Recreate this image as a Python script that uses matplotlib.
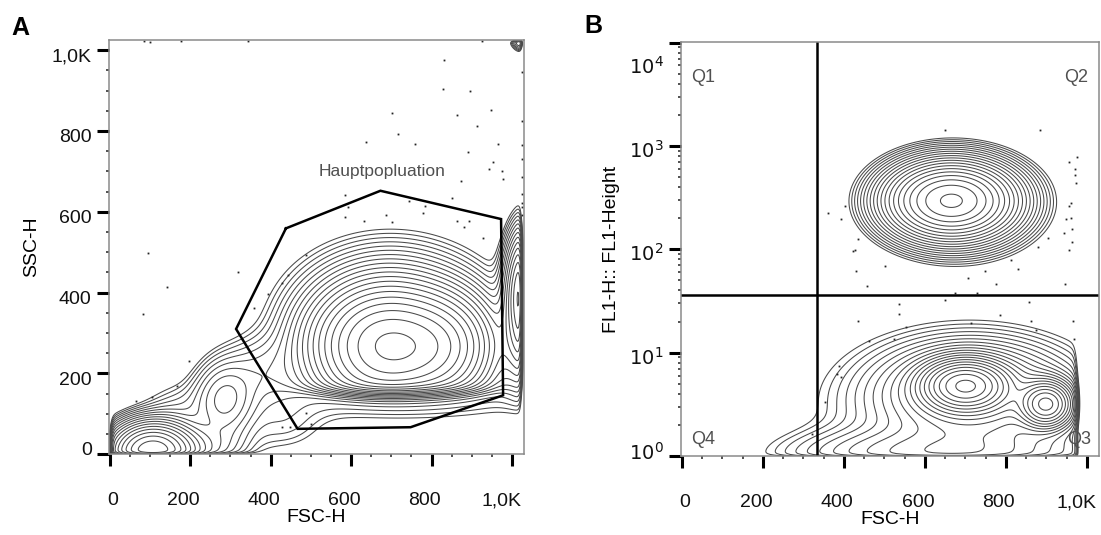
import numpy as np
import matplotlib
matplotlib.use('Agg')
import matplotlib.pyplot as plt
from matplotlib import transforms as mtrans
from matplotlib.ticker import FixedLocator, MultipleLocator, LogLocator, NullFormatter

plt.rcParams['font.family'] = ['Liberation Sans', 'DejaVu Sans']

# ---------------- data ----------------
x_ticks = [0, 200, 400, 600, 800, 1000]
x_tick_labels = ['0', '200', '400', '600', '800', '1,0K']
yA_ticks = [0, 200, 400, 600, 800, 1000]
yA_tick_labels = ['0', '200', '400', '600', '800', '1,0K']
yB_ticks = [1, 10, 100, 1000, 10000]
yB_tick_labels = ['$10^0$', '$10^1$', '$10^2$', '$10^3$', '$10^4$']

# Gate "Hauptpopluation" polygon (FSC-H, SSC-H)
gate_x = [438, 673, 973, 978, 748, 467, 314, 438]
gate_y = [559, 652, 582, 146, 67, 63, 310, 559]

# Panel A populations: centre FSC, centre SSC, spread FSC, spread SSC, weight
popA_cx = [690, 830, 700, 105, 210, 285, 170, 380, 720, 430, 1035, 1035, 1032]
popA_cy = [265, 265, 330, 5, 15, 132, 100, 210, 150, 70, 390, 250, 1032]
popA_sx = [95, 70, 140, 55, 75, 46, 55, 65, 260, 70, 28, 40, 18]
popA_sy = [80, 70, 105, 40, 35, 60, 45, 55, 45, 45, 85, 60, 18]
popA_w = [1.0, 0.35, 0.08, 0.6, 0.05, 0.065, 0.018, 0.025, 0.022, 0.014, 0.4, 0.05, 0.1]
popA_floor = [True, True, True, False, False, False, False, False, False, False, False, False, False]

# Panel A scattered events
dotsA_x = [96, 143, 82, 319, 196, 166, 65, 106, 830, 828, 896, 702, 863, 949, 914, 717,
           637, 758, 891, 966, 954, 942, 975, 978, 874, 852, 743, 785, 586, 592, 686, 631,
           584, 863, 892, 881, 929, 701, 779, 487, 429, 442, 394, 358, 488, 500, 429, 447,
           1024, 1024, 1024, 1024, 1024, 1024, 1024, 1024, 1024, 85, 100, 178, 343, 925]
dotsA_y = [498, 414, 347, 452, 230, 169, 133, 143, 976, 903, 900, 844, 840, 853, 812, 793,
           772, 768, 747, 767, 723, 705, 702, 680, 675, 635, 626, 614, 642, 611, 591, 578,
           587, 578, 576, 563, 534, 574, 597, 492, 424, 443, 397, 361, 102, 76, 67, 67,
           947, 825, 765, 731, 685, 643, 622, 613, 592, 1022, 1021, 1022, 1022, 1022]

# Panel B populations: centre FSC, centre log10(FL1), spread FSC, spread log10, weight
popB_cx = [665, 685, 700, 900, 720, 700, 640]
popB_cu = [2.47, 2.42, 0.68, 0.50, 0.60, 0.50, 0.02]
popB_sx = [80, 105, 55, 35, 120, 200, 200]
popB_su = [0.19, 0.27, 0.13, 0.12, 0.25, 0.42, 0.15]
popB_w = [1.0, 0.05, 0.9, 0.6, 0.15, 0.04, 0.08]

# Panel B scattered events (FSC-H, FL1-H)
dotsB_x = [651, 884, 976, 957, 970, 970, 973, 961, 957, 949, 961, 964, 944, 964, 903, 880,
           957, 946, 812, 830, 749, 775, 707, 674, 730, 362, 402, 394, 435, 422, 428, 429,
           458, 501, 537, 535, 651, 554, 435, 462, 523, 713, 786, 856, 862, 875, 966, 968,
           388, 382, 394, 354, 322]
dotsB_u = [3.15, 3.15, 2.89, 2.84, 2.78, 2.72, 2.64, 2.45, 2.42, 2.29, 2.30, 2.20, 2.16, 2.07,
           2.11, 2.02, 1.99, 1.66, 1.90, 1.81, 1.79, 1.66, 1.72, 1.58, 1.58, 2.35, 2.42, 2.29,
           2.10, 1.98, 1.99, 1.79, 1.64, 1.84, 1.47, 1.37, 1.51, 1.25, 1.31, 1.11, 1.13, 1.29,
           1.36, 1.49, 1.31, 1.22, 1.31, 1.13, 0.87, 0.79, 0.76, 0.52, 0.21]

quad_x = 334
quad_y = 36

# ---------------- helpers ----------------
def sig(z):
    return 1.0 / (1.0 + np.exp(-np.clip(z, -60, 60)))


def blob(X, Y, cx, cy, sx, sy):
    return np.exp(-0.5 * (((X - cx) / sx) ** 2 + ((Y - cy) / sy) ** 2))


W, H, DPI = 1101, 535, 100
fig = plt.figure(figsize=(W / DPI, H / DPI), dpi=DPI)
axA = fig.add_axes([109 / W, 1 - 454.3 / H, 415 / W, 414.3 / H])
axB = fig.add_axes([681 / W, 1 - 456 / H, 418 / W, 414 / H])

line_col = '#4a4a4a'
spine_col = '#8a8a8a'
lvls = np.geomspace(0.008, 0.92, 20)

# ---------------- Panel A ----------------
gx = np.linspace(-20, 1045, 520)
gy = np.linspace(-20, 1045, 520)
X, Y = np.meshgrid(gx, gy)
Z = np.zeros_like(X)
for cx, cy, sx, sy, w, fl in zip(popA_cx, popA_cy, popA_sx, popA_sy, popA_w, popA_floor):
    b = w * blob(X, Y, cx, cy, sx, sy)
    if fl:
        b = b * sig((Y - 158) / 9.0)
    Z += b
Z *= sig((X - 4) / 3) * sig((1022 - X) / 2.5) * sig((Y - 1) / 2.5) * sig((1022 - Y) / 2.5)
Z /= Z.max()
axA.contour(X, Y, Z, levels=lvls, colors=line_col, linewidths=0.75)
axA.plot(dotsA_x, dotsA_y, 's', color='#222222', ms=1.3, mew=0)
axA.plot(gate_x, gate_y, color='black', lw=1.8, solid_joinstyle='miter')
axA.text(677, 700, 'Hauptpopluation', ha='center', va='center', fontsize=12.5, color='#505050')

axA.set_xlim(-2, 1030)
axA.set_ylim(0, 1025)
axA.xaxis.set_major_locator(FixedLocator(x_ticks))
axA.set_xticklabels(x_tick_labels)
axA.xaxis.set_minor_locator(MultipleLocator(50))
axA.yaxis.set_major_locator(FixedLocator(yA_ticks))
axA.set_yticklabels(yA_tick_labels)
axA.yaxis.set_minor_locator(MultipleLocator(50))
axA.set_xlabel('FSC-H', fontsize=14, labelpad=0)
axA.set_ylabel('SSC-H', fontsize=14, labelpad=8)

# ---------------- Panel B ----------------
bx = np.linspace(-20, 1045, 520)
bu = np.linspace(-0.2, 4.1, 520)
XB, UB = np.meshgrid(bx, bu)
ZB = np.zeros_like(XB)
for cx, cu, sx, su, w in zip(popB_cx, popB_cu, popB_sx, popB_su, popB_w):
    ZB += w * blob(XB, UB, cx, cu, sx, su)
ZB *= sig((975 - XB) / 4.0) * sig((UB + 0.005) / 0.01)
ZB /= ZB.max()
axB.set_yscale('log')
axB.contour(XB, 10 ** UB, ZB, levels=lvls, colors=line_col, linewidths=0.75)
axB.plot(dotsB_x, 10 ** np.array(dotsB_u), 's', color='#222222', ms=1.3, mew=0)
axB.axvline(quad_x, color='black', lw=1.8)
axB.axhline(quad_y, color='black', lw=1.8)
axB.text(0.025, 0.915, 'Q1', transform=axB.transAxes, fontsize=13, color='#505050', ha='left', va='center')
axB.text(0.975, 0.915, 'Q2', transform=axB.transAxes, fontsize=13, color='#505050', ha='right', va='center')
axB.text(0.98, 0.04, 'Q3', transform=axB.transAxes, fontsize=13, color='#505050', ha='right', va='center')
axB.text(0.025, 0.04, 'Q4', transform=axB.transAxes, fontsize=13, color='#505050', ha='left', va='center')

axB.set_xlim(-2, 1030)
axB.set_ylim(1, 10 ** 4.005)
axB.xaxis.set_major_locator(FixedLocator(x_ticks))
axB.set_xticklabels(x_tick_labels)
axB.xaxis.set_minor_locator(MultipleLocator(50))
axB.yaxis.set_major_locator(FixedLocator(yB_ticks))
axB.set_yticklabels(yB_tick_labels)
axB.yaxis.set_minor_locator(LogLocator(base=10, subs=np.arange(2, 10)))
axB.yaxis.set_minor_formatter(NullFormatter())
axB.set_xlabel('FSC-H', fontsize=14, labelpad=0)
axB.set_ylabel('FL1-H:: FL1-Height', fontsize=14, labelpad=6)

# ---------------- common styling ----------------
for ax in (axA, axB):
    for s in ax.spines.values():
        s.set_color(spine_col)
        s.set_linewidth(1.1)
    ax.tick_params(which='major', direction='out', length=8.5, width=2.2, color='black',
                   labelsize=14, labelcolor='#111111')
    ax.tick_params(which='minor', direction='out', length=2.5, width=1.2, color='#333333')
    ax.tick_params(axis='x', which='major', pad=19)
    ax.tick_params(axis='y', which='major', pad=4)
    for i, lab in enumerate(ax.get_xticklabels()):
        dx = 3 if i == 0 else (-10 if i == len(x_ticks) - 1 else -7)
        lab.set_transform(lab.get_transform() + mtrans.ScaledTranslation(dx / DPI, 0, fig.dpi_scale_trans))

for i, lab in enumerate(axA.get_yticklabels()):
    dy = 6 if i == 0 else -5
    lab.set_transform(lab.get_transform() + mtrans.ScaledTranslation(0, dy / DPI, fig.dpi_scale_trans))
for i, lab in enumerate(axB.get_yticklabels()):
    dy = 5 if i == 0 else (-22 if i == len(yB_ticks) - 1 else -3)
    lab.set_transform(lab.get_transform() + mtrans.ScaledTranslation(0, dy / DPI, fig.dpi_scale_trans))

fig.text(20 / W, 1 - 28 / H, 'A', fontsize=18, fontweight='bold', ha='center', va='center')
fig.text(593 / W, 1 - 26 / H, 'B', fontsize=18, fontweight='bold', ha='center', va='center')

fig.savefig('out.png', dpi=DPI)
